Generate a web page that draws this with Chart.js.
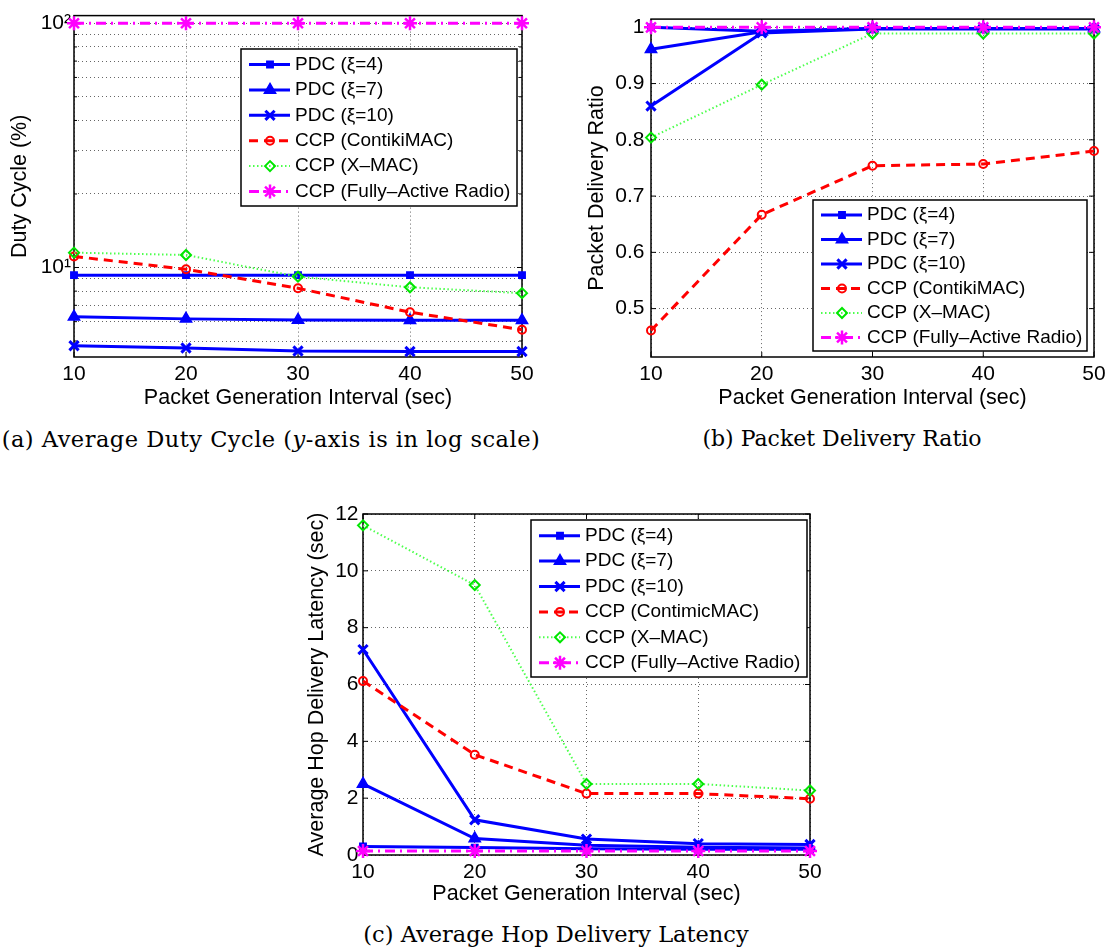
<!DOCTYPE html>
<html lang="en">
<head>
<meta charset="UTF-8">
<title>PDC vs CCP</title>
<script src="https://cdn.jsdelivr.net/npm/chart.js@4.4.0/dist/chart.umd.min.js"></script>
<style>
  body { margin: 0; background: #fff; width: 1112px; height: 950px; position: relative; overflow: hidden; }
  canvas { position: absolute; }
  #chartA { left: 0; top: 0; }
  #chartB { left: 560px; top: 0; }
  #chartC { left: 290px; top: 470px; }
  .caption {
    position: absolute; font-family: "DejaVu Serif", serif; font-size: 22.5px;
    white-space: nowrap; transform: translateX(-50%); color: #000;
  }
</style>
</head>
<body>
<canvas id="chartA" width="550" height="415" style="width:550px;height:415px"></canvas>
<canvas id="chartB" width="552" height="415" style="width:552px;height:415px"></canvas>
<canvas id="chartC" width="540" height="440" style="width:540px;height:440px"></canvas>
<div class="caption" style="left:271px; top:426px; letter-spacing:0.5px;">(a) Average Duty Cycle (<i>y</i>-axis is in log scale)</div>
<div class="caption" style="left:842px; top:426px; font-size:22px;">(b) Packet Delivery Ratio</div>
<div class="caption" style="left:556px; top:921px;">(c) Average Hop Delivery Latency</div>

<script>
// x values shared by all three plots
const intervals = ['10', '20', '30', '40', '50'];
const namesAB = ['PDC (ξ=4)', 'PDC (ξ=7)', 'PDC (ξ=10)', 'CCP (ContikiMAC)', 'CCP (X\u2013MAC)', 'CCP (Fully\u2013Active Radio)'];
const namesC = ['PDC (ξ=4)', 'PDC (ξ=7)', 'PDC (ξ=10)', 'CCP (ContimicMAC)', 'CCP (X\u2013MAC)', 'CCP (Fully\u2013Active Radio)'];

// (a) duty cycle, %
const dutyPdc4 = [9.3, 9.3, 9.3, 9.3, 9.3];
const dutyPdc7 = [6.28, 6.16, 6.1, 6.08, 6.08];
const dutyPdc10 = [4.78, 4.68, 4.55, 4.53, 4.53];
const dutyContiki = [11.1, 9.83, 8.22, 6.56, 5.56];
const dutyXmac = [11.5, 11.25, 9.17, 8.3, 7.85];
const dutyActive = [100, 100, 100, 100, 100];
const dutyTicks = [5, 6, 7, 8, 9, 10, 20, 30, 40, 50, 60, 70, 80, 90, 100];
const dutyTickLabels = ['', '', '', '', '', '10\u00b9', '', '', '', '', '', '', '', '', '10\u00b2'];

// (b) packet delivery ratio
const pdrPdc4 = [1.0, 0.993, 0.998, 0.998, 0.998];
const pdrPdc7 = [0.961, 0.992, 0.998, 0.998, 0.998];
const pdrPdc10 = [0.86, 0.99, 0.997, 0.997, 0.997];
const pdrContiki = [0.461, 0.667, 0.754, 0.757, 0.78];
const pdrXmac = [0.804, 0.898, 0.989, 0.989, 0.989];
const pdrActive = [1.0, 1.0, 1.0, 1.0, 1.0];
const pdrTicks = [0.5, 0.6, 0.7, 0.8, 0.9, 1.0];
const pdrTickLabels = ['0.5', '0.6', '0.7', '0.8', '0.9', '1'];

// (c) average hop delivery latency, sec
const latPdc4 = [0.3, 0.26, 0.22, 0.2, 0.2];
const latPdc7 = [2.5, 0.58, 0.34, 0.27, 0.25];
const latPdc10 = [7.23, 1.24, 0.56, 0.4, 0.37];
const latContiki = [6.12, 3.53, 2.16, 2.16, 1.98];
const latXmac = [11.6, 9.5, 2.5, 2.5, 2.27];
const latActive = [0.14, 0.14, 0.14, 0.14, 0.14];
const latTicks = [0, 2, 4, 6, 8, 10, 12];
const latTickLabels = ['0', '2', '4', '6', '8', '10', '12'];

// line / marker look of each series, MATLAB style
const seriesStyles = [
  { color: '#0000ff', width: 3, dash: [], point: 'rect', radius: 4.5, fill: '#0000ff', pw: 1.5 },
  { color: '#0000ff', width: 3, dash: [], point: 'triangle', radius: 6.5, fill: '#0000ff', pw: 1.5 },
  { color: '#0000ff', width: 3, dash: [], point: 'crossRot', radius: 6.5, fill: '#0000ff', pw: 3 },
  { color: '#ff0000', width: 3, dash: [9, 6], point: 'circle', radius: 4, fill: 'rgba(0,0,0,0)', pw: 2 },
  { color: '#4dff4d', width: 2, dash: [1.5, 2.5], point: 'rectRot', radius: 5, fill: 'rgba(0,0,0,0)', pw: 2, pointColor: '#00e600' },
  { color: '#ff00ff', width: 3, dash: [10, 5, 2, 5], point: 'star', radius: 7, fill: '#ff00ff', pw: 2.5 }
];

Chart.defaults.font.family = '"Liberation Sans", Arial, sans-serif';
Chart.defaults.color = '#000';

function buildDatasets(valueLists, names) {
  return valueLists.map((vals, i) => {
    const s = seriesStyles[i];
    return {
      label: names[i],
      data: vals,
      borderColor: s.color,
      borderWidth: s.width,
      borderDash: s.dash,
      pointStyle: s.point,
      pointRadius: s.radius,
      pointHoverRadius: s.radius,
      pointBackgroundColor: s.fill,
      pointBorderColor: s.pointColor || s.color,
      pointBorderWidth: s.pw,
      fill: false,
      tension: 0,
      clip: false,
      order: valueLists.length - 1 - i   // later series drawn on top, like MATLAB
    };
  });
}

// axes box plus small inward tick marks
const framePlugin = {
  id: 'frame',
  beforeDatasetsDraw(chart) {
    const { ctx, chartArea: a } = chart;
    ctx.save();
    ctx.strokeStyle = '#000';
    ctx.lineWidth = 1.5;
    ctx.strokeRect(a.left, a.top, a.right - a.left, a.bottom - a.top);
    ctx.lineWidth = 1;
    const xs = chart.scales.x, ys = chart.scales.y;
    ctx.beginPath();
    xs.ticks.forEach((t, i) => {
      const px = xs.getPixelForTick(i);
      ctx.moveTo(px, a.bottom); ctx.lineTo(px, a.bottom - 5);
      ctx.moveTo(px, a.top); ctx.lineTo(px, a.top + 5);
    });
    ys.ticks.forEach((t, i) => {
      const py = ys.getPixelForTick(i);
      const len = t.label === '' ? 3 : 5;
      ctx.moveTo(a.left, py); ctx.lineTo(a.left + len, py);
      ctx.moveTo(a.right, py); ctx.lineTo(a.right - len, py);
    });
    ctx.stroke();
    ctx.restore();
  }
};

// boxed MATLAB-like legend with line + marker samples
const boxLegendPlugin = {
  id: 'boxLegend',
  afterDraw(chart, args, opts) {
    if (!opts || opts.width === undefined) return;
    const ctx = chart.ctx;
    ctx.save();
    ctx.fillStyle = '#fff';
    ctx.fillRect(opts.left, opts.top, opts.width, opts.height);
    ctx.strokeStyle = '#000';
    ctx.lineWidth = 1.5;
    ctx.strokeRect(opts.left, opts.top, opts.width, opts.height);
    chart.data.datasets.forEach((ds, i) => {
      const y = opts.top + opts.first + i * opts.step;
      ctx.save();
      ctx.strokeStyle = ds.borderColor;
      ctx.lineWidth = ds.borderWidth;
      ctx.setLineDash(ds.borderDash);
      ctx.beginPath();
      ctx.moveTo(opts.left + 8, y);
      ctx.lineTo(opts.left + 49, y);
      ctx.stroke();
      ctx.setLineDash([]);
      ctx.fillStyle = ds.pointBackgroundColor;
      ctx.strokeStyle = ds.pointBorderColor;
      ctx.lineWidth = ds.pointBorderWidth;
      Chart.helpers.drawPoint(ctx, {
        pointStyle: ds.pointStyle, radius: ds.pointRadius, rotation: 0, borderWidth: ds.pointBorderWidth
      }, opts.left + 29, y);
      ctx.restore();
      ctx.fillStyle = '#000';
      ctx.font = '19px "Liberation Sans", Arial, sans-serif';
      ctx.textBaseline = 'middle';
      ctx.textAlign = 'left';
      ctx.fillText(ds.label, opts.left + 54, y);
    });
    ctx.restore();
  }
};

function makeChart(id, cfg) {
  const dotted = { display: false, dash: [1, 3] };
  new Chart(document.getElementById(id), {
    type: 'line',
    data: { labels: intervals, datasets: cfg.datasets },
    options: {
      responsive: false,
      animation: false,
      devicePixelRatio: 1,
      layout: { padding: { left: 0, right: cfg.padRight, top: cfg.padTop, bottom: 0 } },
      plugins: {
        legend: { display: false },
        tooltip: { enabled: false },
        boxLegend: cfg.legend
      },
      scales: {
        x: {
          type: 'category',
          offset: false,
          grid: { color: 'rgba(0,0,0,0.6)', lineWidth: 1, drawTicks: false },
          border: dotted,
          ticks: { font: { size: 21 }, padding: 5, maxRotation: 0, autoSkip: false },
          title: {
            display: true, text: 'Packet Generation Interval (sec)',
            font: { size: 21.5 }, padding: { top: 0, bottom: cfg.xTitlePad }
          },
          afterFit: (scale) => { scale.height = cfg.xHeight; }
        },
        y: {
          type: cfg.yType,
          min: cfg.yMin,
          max: cfg.yMax,
          grid: { color: 'rgba(0,0,0,0.6)', lineWidth: 1, drawTicks: false },
          border: dotted,
          afterBuildTicks: (scale) => { scale.ticks = cfg.yTicks.map(v => ({ value: v })); },
          ticks: {
            font: { size: 21 }, padding: cfg.yTickPad, autoSkip: false,
            callback: (v, i) => cfg.yTickLabels[i]
          },
          title: {
            display: true, text: cfg.yTitle,
            font: { size: 21.5 }, padding: { top: cfg.yTitlePad, bottom: 0 }
          },
          afterFit: (scale) => { scale.width = cfg.yWidth; }
        }
      }
    },
    plugins: [framePlugin, boxLegendPlugin]
  });
}

makeChart('chartA', {
  datasets: buildDatasets([dutyPdc4, dutyPdc7, dutyPdc10, dutyContiki, dutyXmac, dutyActive], namesAB),
  yType: 'logarithmic', yMin: 4.3, yMax: 107.5,
  yTicks: dutyTicks, yTickLabels: dutyTickLabels,
  yTitle: 'Duty Cycle (%)',
  padRight: 28, padTop: 15, yWidth: 74, xHeight: 58,
  yTickPad: 3, yTitlePad: 7, xTitlePad: 4,
  legend: { left: 241, top: 49, width: 276, height: 157, first: 15.5, step: 25.4 }
});

makeChart('chartB', {
  datasets: buildDatasets([pdrPdc4, pdrPdc7, pdrPdc10, pdrContiki, pdrXmac, pdrActive], namesAB),
  yType: 'linear', yMin: 0.414, yMax: 1.0146,
  yTicks: pdrTicks, yTickLabels: pdrTickLabels,
  yTitle: 'Packet Delivery Ratio',
  padRight: 18, padTop: 15, yWidth: 91, xHeight: 58,
  yTickPad: 6.5, yTitlePad: 24, xTitlePad: 4,
  legend: { left: 253, top: 200, width: 274, height: 151, first: 15, step: 24.5 }
});

makeChart('chartC', {
  datasets: buildDatasets([latPdc4, latPdc7, latPdc10, latContiki, latXmac, latActive], namesC),
  yType: 'linear', yMin: 0, yMax: 12,
  yTicks: latTicks, yTickLabels: latTickLabels,
  yTitle: 'Average Hop Delivery Latency (sec)',
  padRight: 20, padTop: 44, yWidth: 73, xHeight: 55,
  yTickPad: 4.5, yTitlePad: 14, xTitlePad: 3,
  legend: { left: 241, top: 50, width: 276, height: 157, first: 15.7, step: 25.4 }
});
</script>
</body>
</html>
